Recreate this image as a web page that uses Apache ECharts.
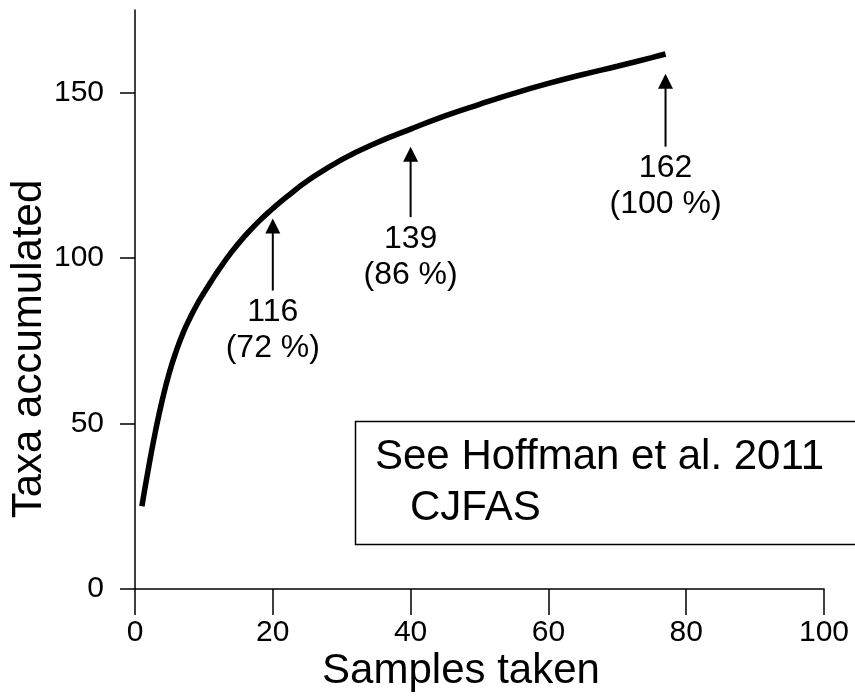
<!DOCTYPE html>
<html>
<head>
<meta charset="utf-8">
<script src="https://cdn.jsdelivr.net/npm/echarts@6/dist/echarts.min.js"></script>
<style>
html,body{margin:0;padding:0;background:#fff;}
#chart{width:855px;height:696px;}
</style>
</head>
<body>
<div id="chart"></div>
<script>
// ---- data ----
const samples = [1, 2, 3, 4, 5, 6, 7, 8, 9, 10, 11, 12, 14, 16, 18, 20, 22, 25, 30, 35, 40, 45, 50, 55, 60, 65, 70, 75, 77];
const taxa    = [25, 37, 48, 57.5, 65.5, 72, 77.5, 82, 86, 89.5, 92.8, 96, 101.8, 106.8, 111.2, 115, 118.5, 123.3, 129.8, 134.8, 139, 143, 146.5, 149.8, 152.8, 155.5, 158, 160.6, 161.7];

const arrowX    = [20, 40, 77];
const arrowBase = [90.2, 112.4, 133.7];
const arrowTip  = [112, 133.7, 155.7];
const annotTaxa = [116, 139, 162];
const annotPct  = [72, 86, 100];

const xTicks = [0, 20, 40, 60, 80, 100];
const yTicks = [0, 50, 100, 150];

const xTitle = 'Samples taken';
const yTitle = 'Taxa accumulated';
const noteLines = ['See Hoffman et al. 2011', 'CJFAS'];

// ---- chart ----
const FONT = '"Liberation Sans", Arial, Helvetica, sans-serif';
const chart = echarts.init(document.getElementById('chart'), null, {renderer: 'canvas'});

const curve = samples.map((s, i) => [s, taxa[i]]);
const arrows = arrowX.map((x, i) => [x, arrowBase[i], arrowTip[i], annotTaxa[i], annotPct[i]]);

const option = {
  animation: false,
  backgroundColor: '#fff',
  grid: {left: 135, right: 31, top: 10, bottom: 107, containLabel: false, outerBoundsMode: 'none'},
  xAxis: {
    type: 'value', min: 0, max: 100, interval: 20,
    splitLine: {show: false},
    axisLine: {show: true, lineStyle: {color: '#000', width: 1.5}},
    axisTick: {show: true, inside: false, length: 26, lineStyle: {color: '#000', width: 1.5}, customValues: xTicks},
    axisLabel: {color: '#000', fontSize: 30, fontFamily: FONT, margin: 29, customValues: xTicks}
  },
  yAxis: {
    type: 'value', min: 0, max: 175, interval: 50,
    splitLine: {show: false},
    axisLine: {show: true, lineStyle: {color: '#000', width: 1.5}},
    axisTick: {show: true, inside: false, length: 15, lineStyle: {color: '#000', width: 1.5}, customValues: yTicks},
    axisLabel: {color: '#000', fontSize: 30, fontFamily: FONT, margin: 31, customValues: yTicks}
  },
  series: [
    {
      type: 'line',
      data: curve,
      showSymbol: false,
      smooth: 0.5,
      lineStyle: {color: '#000', width: 5.5},
      z: 3
    },
    {
      type: 'custom',
      data: arrows,
      renderItem: function (params, api) {
        const x = api.value(0);
        const p0 = api.coord([x, api.value(1)]);
        const p1 = api.coord([x, api.value(2)]);
        const head = 15;
        return {
          type: 'group',
          children: [
            {type: 'line', shape: {x1: p0[0], y1: p0[1], x2: p1[0], y2: p1[1] + head - 1},
             style: {stroke: '#000', lineWidth: 2}},
            {type: 'polygon', shape: {points: [[p1[0] - 7.5, p1[1] + head], [p1[0] + 7.5, p1[1] + head], [p1[0], p1[1]]]},
             style: {fill: '#000'}},
            {type: 'text', style: {
              text: api.value(3) + '\n(' + api.value(4) + ' %)',
              x: p0[0], y: p0[1] + 4,
              align: 'center', verticalAlign: 'top',
              fontSize: 32, fontFamily: FONT, lineHeight: 36, fill: '#000'
            }}
          ]
        };
      },
      z: 4
    }
  ],
  graphic: [
    {type: 'rect', left: 353, top: 419, shape: {x: 0, y: 0, width: 600, height: 123},
     style: {fill: 'none', stroke: '#000', lineWidth: 1.5}, z: 10},
    {type: 'text', x: 375, y: 457.5, style: {text: noteLines[0], fontSize: 42, fontFamily: FONT, fill: '#000', verticalAlign: 'middle', align: 'left'}, z: 11},
    {type: 'text', x: 410, y: 508.5, style: {text: noteLines[1], fontSize: 42, fontFamily: FONT, fill: '#000', verticalAlign: 'middle', align: 'left'}, z: 11},
    {type: 'text', x: 461, y: 671.5, style: {text: xTitle, fontSize: 42, fontFamily: FONT, fill: '#000', verticalAlign: 'middle', align: 'center'}, z: 11},
    {type: 'text', x: 29.6, y: 349, rotation: Math.PI / 2, style: {text: yTitle, fontSize: 42, fontFamily: FONT, fill: '#000', verticalAlign: 'middle', align: 'center'}, z: 11}
  ]
};
chart.setOption(option);
</script>
</body>
</html>
